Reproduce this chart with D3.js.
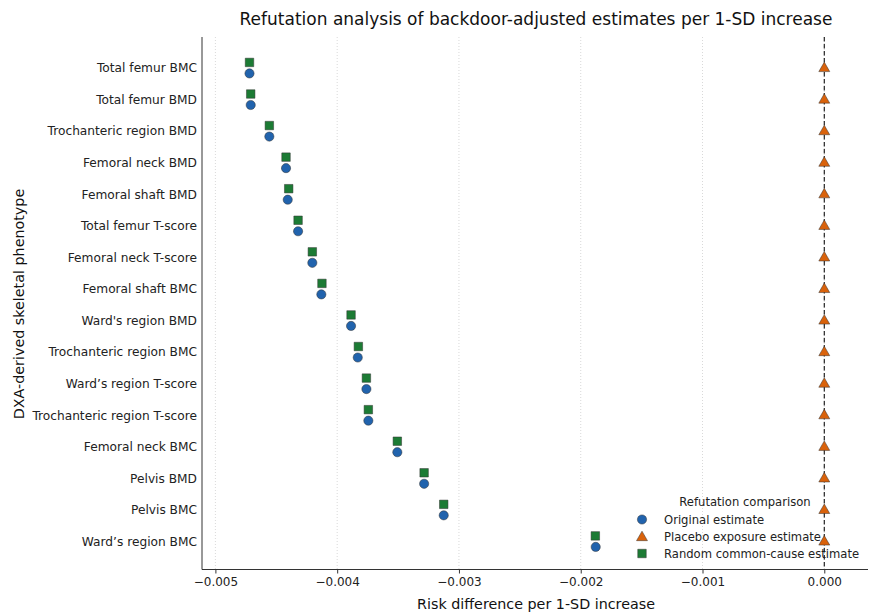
<!DOCTYPE html>
<html>
<head>
<meta charset="utf-8">
<script src="https://cdn.jsdelivr.net/npm/d3@7"></script>
<style>
  body { margin: 0; background: #fff; }
  svg { display: block; font-family: "DejaVu Sans", sans-serif; }
</style>
</head>
<body>
<svg id="chart" width="869" height="613"></svg>
<script>
// Skeletal phenotypes, top to bottom
const phenotypes = [
  "Total femur BMC", "Total femur BMD", "Trochanteric region BMD", "Femoral neck BMD",
  "Femoral shaft BMD", "Total femur T-score", "Femoral neck T-score", "Femoral shaft BMC",
  "Ward's region BMD", "Trochanteric region BMC", "Ward\u2019s region T-score",
  "Trochanteric region T-score", "Femoral neck BMC", "Pelvis BMD", "Pelvis BMC",
  "Ward\u2019s region BMC"
];
// Risk difference per 1-SD increase
const originalEstimate = [
  -0.00472, -0.00471, -0.004557, -0.00442, -0.004406, -0.004321, -0.004204, -0.00413,
  -0.003886, -0.003831, -0.00376, -0.003744, -0.003506, -0.003286, -0.003125, -0.001877
];
const placeboEstimate = [
  0.000000, 0.000000, 0.000000, 0.000000, 0.000000, 0.000000, 0.000000, 0.000000,
  0.000000, 0.000000, 0.000000, 0.000000, 0.000000, 0.000000, 0.000000, 0.000000
];
const randomCommonCause = [
  -0.00472, -0.00471, -0.004557, -0.00442, -0.004398, -0.004321, -0.004204, -0.004125,
  -0.003886, -0.003826, -0.00376, -0.003744, -0.003506, -0.003286, -0.003125, -0.001880
];
const xTicks = [-0.005, -0.004, -0.003, -0.002, -0.001, 0.000];

const svg = d3.select("#chart");
const plotLeft = 202, plotRight = 868, plotTop = 37, plotBottom = 569.5;

const x = d3.scaleLinear().domain([-0.00511, 0.000359]).range([plotLeft, plotRight]);
const y = d3.scaleLinear().domain([-0.98, 15.89]).range([plotTop, plotBottom]);
const off = 5.5;

const colors = { orig: "#2163ad", placebo: "#d9620b", random: "#1c7b34" };

// vertical dotted grid
svg.append("g").selectAll("line").data(xTicks).join("line")
  .attr("x1", d => x(d)).attr("x2", d => x(d))
  .attr("y1", plotTop).attr("y2", plotBottom)
  .attr("stroke", "#cfcfcf").attr("stroke-width", 0.8)
  .attr("stroke-dasharray", "1,2");

// reference line at zero
svg.append("line")
  .attr("x1", x(0)).attr("x2", x(0)).attr("y1", plotTop).attr("y2", plotBottom)
  .attr("stroke", "#111").attr("stroke-width", 1.1)
  .attr("stroke-dasharray", "4.5,2.5");

// x axis
const xAxis = d3.axisBottom(x).tickValues(xTicks).tickSize(4).tickPadding(4)
  .tickFormat(d => (d < 0 ? "\u2212" : "") + Math.abs(d).toFixed(3));
const gx = svg.append("g").attr("transform", `translate(0,${plotBottom})`).call(xAxis);
gx.select(".domain").remove();
gx.selectAll("text").attr("font-size", 12).attr("fill", "#222").attr("font-family", "DejaVu Sans");
gx.selectAll("line").attr("stroke", "#333");
svg.append("line").attr("x1", plotLeft).attr("x2", plotRight).attr("y1", plotBottom).attr("y2", plotBottom)
  .attr("stroke", "#333").attr("stroke-width", 1);

// y axis
const yAxis = d3.axisLeft(y).tickValues(d3.range(phenotypes.length)).tickSize(0).tickPadding(5)
  .tickFormat(i => phenotypes[i]);
const gy = svg.append("g").attr("transform", `translate(${plotLeft},0)`).call(yAxis);
gy.select(".domain").remove();
gy.selectAll("text").attr("font-size", 12.2).attr("fill", "#222").attr("font-family", "DejaVu Sans");
svg.append("line").attr("x1", plotLeft).attr("x2", plotLeft).attr("y1", plotTop).attr("y2", plotBottom)
  .attr("stroke", "#333").attr("stroke-width", 1);

const sym = (type, size) => d3.symbol().type(type).size(size)();

// placebo triangles
svg.append("g").selectAll("path").data(placeboEstimate).join("path")
  .attr("d", sym(d3.symbolTriangle, 52))
  .attr("transform", (d, i) => `translate(${x(d)},${y(i) + 0.5})`)
  .attr("fill", colors.placebo).attr("stroke", "#333").attr("stroke-width", 0.5);

// random common-cause squares
svg.append("g").selectAll("path").data(randomCommonCause).join("path")
  .attr("d", sym(d3.symbolSquare, 72))
  .attr("transform", (d, i) => `translate(${x(d)},${y(i) - off})`)
  .attr("fill", colors.random).attr("stroke", "#333").attr("stroke-width", 0.5);

// original estimate circles
svg.append("g").selectAll("circle").data(originalEstimate).join("circle")
  .attr("cx", d => x(d)).attr("cy", (d, i) => y(i) + off).attr("r", 4.6)
  .attr("fill", colors.orig).attr("stroke", "#333").attr("stroke-width", 0.5);

// title and axis labels
svg.append("text").attr("x", 536).attr("y", 25).attr("text-anchor", "middle")
  .attr("font-size", 17).attr("fill", "#111").text("Refutation analysis of backdoor-adjusted estimates per 1-SD increase");
svg.append("text").attr("x", 536).attr("y", 609).attr("text-anchor", "middle")
  .attr("font-size", 14.3).attr("fill", "#111").text("Risk difference per 1-SD increase");
svg.append("text").attr("transform", "translate(24,304) rotate(-90)").attr("text-anchor", "middle")
  .attr("font-size", 14.3).attr("fill", "#111").text("DXA-derived skeletal phenotype");

// legend
const legend = svg.append("g");
legend.append("text").attr("x", 745).attr("y", 506).attr("text-anchor", "middle")
  .attr("font-size", 11.6).attr("fill", "#222").text("Refutation comparison");
const items = [
  { label: "Original estimate", type: "circle", color: colors.orig },
  { label: "Placebo exposure estimate", type: "triangle", color: colors.placebo },
  { label: "Random common-cause estimate", type: "square", color: colors.random }
];
items.forEach((it, k) => {
  const cy = 519.5 + k * 17;
  if (it.type === "circle") {
    legend.append("circle").attr("cx", 642).attr("cy", cy).attr("r", 4.6)
      .attr("fill", it.color).attr("stroke", "#333").attr("stroke-width", 0.5);
  } else {
    legend.append("path")
      .attr("d", sym(it.type === "triangle" ? d3.symbolTriangle : d3.symbolSquare, it.type === "triangle" ? 52 : 72))
      .attr("transform", `translate(642,${cy + (it.type === "triangle" ? 1 : 0)})`)
      .attr("fill", it.color).attr("stroke", "#333").attr("stroke-width", 0.5);
  }
  legend.append("text").attr("x", 664).attr("y", cy + 4).attr("font-size", 11.6)
    .attr("fill", "#222").text(it.label);
});
</script>
</body>
</html>
